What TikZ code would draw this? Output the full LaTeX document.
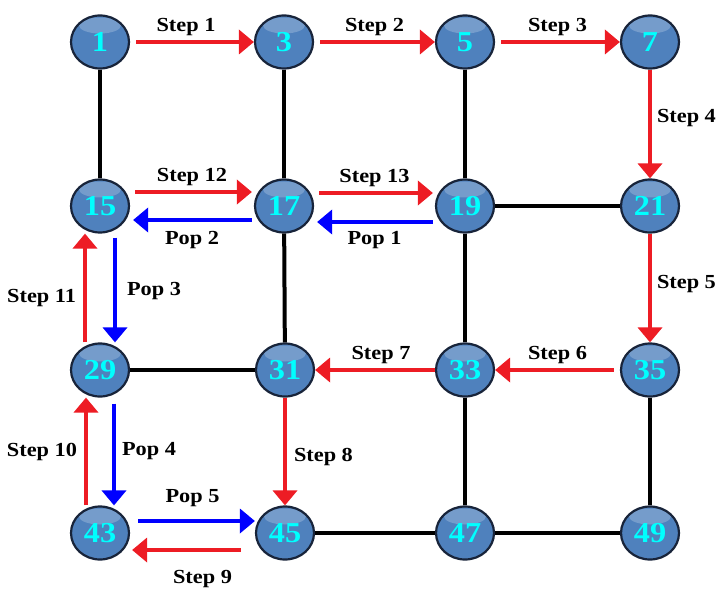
\documentclass[tikz,border=0pt]{standalone}
\usepackage{fontspec}
\setmainfont{Liberation Serif}[FakeStretch=1.12]
\usepackage{xcolor}
\usepackage{tikz}
\usetikzlibrary{arrows.meta,shapes.geometric}

\definecolor{ballblue}{HTML}{4F81BD}
\definecolor{ballrim}{HTML}{18243A}
\definecolor{steprd}{HTML}{ED1C24}
\definecolor{popbl}{HTML}{0000FF}
\definecolor{numcyan}{HTML}{00FFFF}

\begin{document}
\begin{tikzpicture}[x=1bp, y=-1bp]
    % Styles
    \tikzstyle{ball} = [ellipse, draw=ballrim, line width=2.2bp, fill=ballblue, minimum width=58bp, minimum height=53bp, inner sep=0pt,
        font=\fontsize{29}{31}\selectfont\bfseries, text=numcyan,
        path picture={\fill[white, opacity=0.22] ([yshift=-10bp]path picture bounding box.north) ellipse (21bp and 8bp);}]
    \tikzstyle{edge} = [line width=4bp, black]
    \tikzstyle{stp} = [line width=4bp, steprd, ->, >={Triangle[width=24bp 0 0,length=15bp 0 0]}]
    \tikzstyle{pop} = [line width=4bp, popbl, ->, >={Triangle[width=24bp 0 0,length=15bp 0 0]}]
    \tikzstyle{lbl} = [text=black, inner sep=1bp, font=\fontsize{20}{22}\selectfont\bfseries]

    \useasboundingbox (0,0) rectangle (724,593);

    % Nodes
    \node[ball] (n1)  at (100,42)  {1};
    \node[ball] (n3)  at (284,42)  {3};
    \node[ball] (n5)  at (465,42)  {5};
    \node[ball] (n7)  at (650,42)  {7};
    \node[ball] (n15) at (100,206) {15};
    \node[ball] (n17) at (284,206) {17};
    \node[ball] (n19) at (465,206) {19};
    \node[ball] (n21) at (650,206) {21};
    \node[ball] (n29) at (100,370) {29};
    \node[ball] (n31) at (285,370) {31};
    \node[ball] (n33) at (465,370) {33};
    \node[ball] (n35) at (650,370) {35};
    \node[ball] (n43) at (100,533) {43};
    \node[ball] (n45) at (285,533) {45};
    \node[ball] (n47) at (465,533) {47};
    \node[ball] (n49) at (650,533) {49};

    % Edges
    \draw[edge] (n1) -- (n15);
    \draw[edge] (n3) -- (n17);
    \draw[edge] (n5) -- (n19);
    \draw[edge] (n19) -- (n21);
    \draw[edge] (n17) -- (n31);
    \draw[edge] (n19) -- (n33);
    \draw[edge] (n29) -- (n31);
    \draw[edge] (n33) -- (n47);
    \draw[edge] (n35) -- (n49);
    \draw[edge] (n45) -- (n47);
    \draw[edge] (n47) -- (n49);

    % Arrows
    \draw[stp, shorten <=6bp] (n1.east) -- (n3.west) node[lbl, midway, above=3bp, xshift=-6bp] {Step 1};
    \draw[stp, shorten <=6bp] (n3.east) -- (n5.west) node[lbl, midway, above=3bp] {Step 2};
    \draw[stp, shorten <=6bp] (n5.east) -- (n7.west) node[lbl, midway, above=3bp] {Step 3};
    \draw[stp] (n7.south) -- (n21.north) node[lbl, midway, right=4bp, yshift=6bp] {Step 4};
    \draw[stp] (n21.south) -- (n35.north) node[lbl, midway, right=4bp, yshift=4bp] {Step 5};
    \draw[stp, shorten <=6bp] (n35.west) -- (n33.east) node[lbl, midway, above=3bp] {Step 6};
    \draw[stp] (n33.west) -- (n31.east) node[lbl, midway, above=3bp, xshift=6bp] {Step 7};
    \draw[stp] (n31.south) -- (n45.north) node[lbl, midway, right=6bp, yshift=-5bp] {Step 8};
    \draw[stp, shorten <=14bp, shorten >=2bp] ([yshift=-17bp]n45.west) -- ([yshift=-17bp]n43.east) node[lbl, midway, below=17bp, xshift=10bp] {Step 9};
    \draw[stp] ([xshift=-14bp]n43.north) -- ([xshift=-14bp]n29.south) node[lbl, midway, left=6bp] {Step 10};
    \draw[stp] ([xshift=-15bp]n29.north) -- ([xshift=-15bp]n15.south) node[lbl, midway, left=6bp, yshift=-10bp] {Step 11};
    \draw[stp, shorten <=5bp, shorten >=2bp] ([yshift=14bp]n15.east) -- ([yshift=14bp]n17.west) node[lbl, midway, above=3bp] {Step 12};
    \draw[stp, shorten <=5bp, shorten >=2bp] ([yshift=13bp]n17.east) -- ([yshift=13bp]n19.west) node[lbl, midway, above=3bp] {Step 13};

    \draw[pop, shorten <=2bp, shorten >=3bp] ([yshift=-16bp]n19.west) -- ([yshift=-16bp]n17.east) node[lbl, midway, below=6bp] {Pop 1};
    \draw[pop, shorten <=2bp, shorten >=3bp] ([yshift=-14bp]n17.west) -- ([yshift=-14bp]n15.east) node[lbl, midway, below=8bp] {Pop 2};
    \draw[pop, shorten <=4bp] ([xshift=15bp]n15.south) -- ([xshift=15bp]n29.north) node[lbl, midway, right=9bp, yshift=-3bp] {Pop 3};
    \draw[pop, shorten <=6bp] ([xshift=14bp]n29.south) -- ([xshift=14bp]n43.north) node[lbl, midway, right=5bp] {Pop 4};
    \draw[pop, shorten <=8bp] ([yshift=12bp]n43.east) -- ([yshift=12bp]n45.west) node[lbl, midway, above=11bp] {Pop 5};

\end{tikzpicture}
\end{document}
